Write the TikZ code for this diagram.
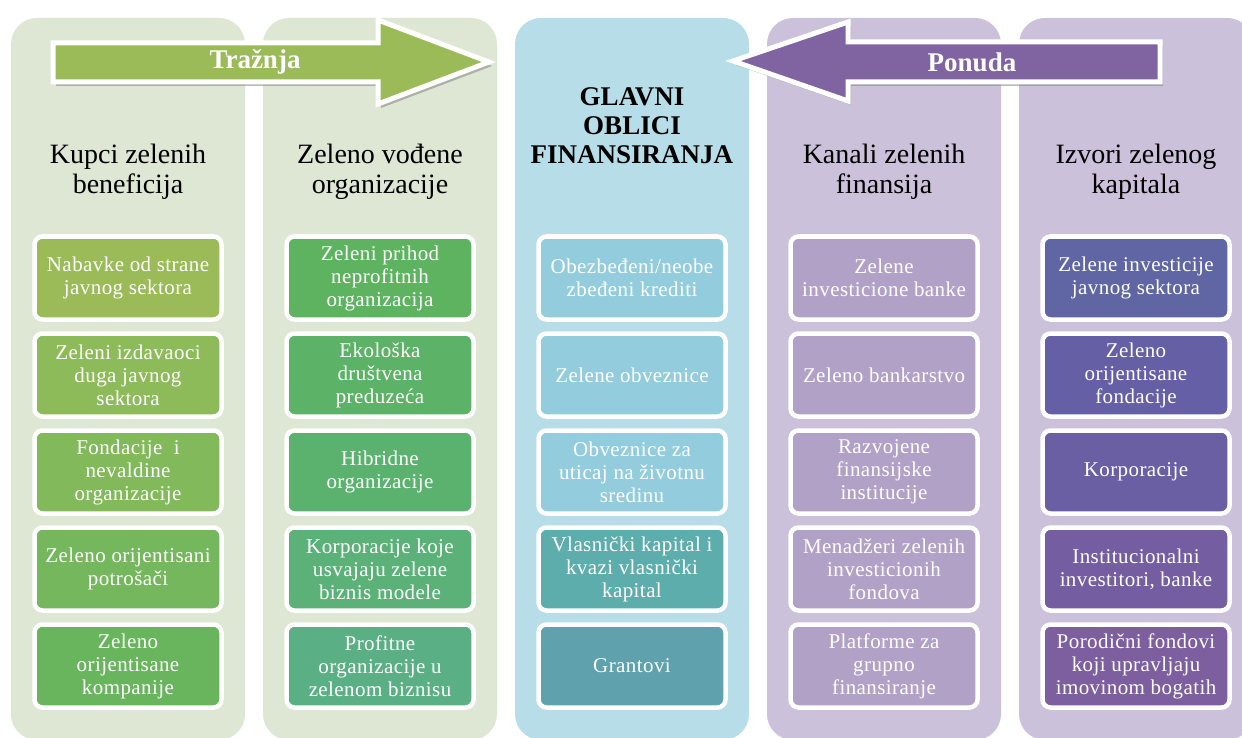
\documentclass[tikz,border=0pt]{standalone}
\usepackage{fontspec}
\setmainfont{Liberation Serif}
\newfontfamily\boxfont[LetterSpace=2]{Liberation Serif}
\definecolor{bgG}{HTML}{DDE7D4}
\definecolor{bgB}{HTML}{B7DDE8}
\definecolor{bgP}{HTML}{CCC1DA}
\definecolor{arG}{HTML}{9BBB59}
\definecolor{arP}{HTML}{8064A2}
\definecolor{cA}{HTML}{9BBB59}
\definecolor{cB}{HTML}{8EBB5A}
\definecolor{cC}{HTML}{82B95B}
\definecolor{cD}{HTML}{75B75C}
\definecolor{cE}{HTML}{69B55E}
\definecolor{dA}{HTML}{5DB360}
\definecolor{dB}{HTML}{5CB267}
\definecolor{dC}{HTML}{5BB26F}
\definecolor{dD}{HTML}{5BB178}
\definecolor{dE}{HTML}{5AB084}
\definecolor{eA}{HTML}{93CDDD}
\definecolor{eD}{HTML}{5EADAD}
\definecolor{eE}{HTML}{5FA1AC}
\definecolor{fA}{HTML}{B2A1C7}
\definecolor{gA}{HTML}{5F66A3}
\definecolor{gB}{HTML}{6560A5}
\definecolor{gC}{HTML}{6B5FA3}
\definecolor{gD}{HTML}{745EA1}
\definecolor{gE}{HTML}{7D5E9E}
\begin{document}
\begin{tikzpicture}[x=1pt,y=-1pt,
  colbg/.style={rounded corners=26pt},
  inbox/.style={draw=white, line width=4.5pt, rounded corners=8pt,
    minimum width=187pt, minimum height=83pt, inner sep=0pt,
    text=white, align=center, font=\boxfont\fontsize{21}{23}\selectfont},
  head/.style={align=center, text=black, font=\fontsize{28}{30}\selectfont},
  bighead/.style={align=center, text=black, font=\bfseries\fontsize{27}{29}\selectfont},
  arrowshape/.style={draw=white, line width=5pt, line join=miter},
  arrowshadow/.style={fill=black!45, opacity=0.6},
  arrowlabel/.style={text=white, font=\bfseries\fontsize{27}{29}\selectfont}
]
\useasboundingbox (0,0) rectangle (1242,738);
\fill[white] (0,0) rectangle (1242,738);
% column backgrounds
\fill[colbg, bgG] (11,18) rectangle (245,740);
\fill[colbg, bgG] (263,18) rectangle (497,740);
\fill[colbg, bgB] (515,18) rectangle (749,740);
\fill[colbg, bgP] (767,18) rectangle (1001,740);
\fill[colbg, bgP] (1019,18) rectangle (1253,740);

% column titles
\node[head] (h1) at (128,172) {Kupci zelenih\\beneficija};
\node[head] (h2) at (380,172) {Zeleno vođene\\organizacije};
\node[bighead] (h3) at (632,126) {GLAVNI\\OBLICI\\FINANSIRANJA};
\node[head] (h4) at (884,172) {Kanali zelenih\\finansija};
\node[head] (h5) at (1136,172) {Izvori zelenog\\kapitala};

% arrows
\fill[arrowshadow] (56,47) -- (381,47) -- (381,24) -- (492,66) -- (381,108) -- (381,86) -- (56,86) -- cycle;
\filldraw[arrowshape, fill=arG] (53,43) -- (378,43) -- (378,20) -- (489,62) -- (378,104) -- (378,82) -- (53,82) -- cycle;
\node[arrowlabel] (tr) at (255,62) {Tražnja};

\fill[arrowshadow] (1163,46) -- (851,46) -- (851,26) -- (736,65) -- (851,105) -- (851,86) -- (1163,86) -- cycle;
\filldraw[arrowshape, fill=arP] (1160,42) -- (848,42) -- (848,22) -- (733,61) -- (848,101) -- (848,82) -- (1160,82) -- cycle;
\node[arrowlabel] (po) at (972,62) {Ponuda};

% column 1
\node[inbox, fill=cA] (b11) at (128,278) {Nabavke od strane\\javnog sektora};
\node[inbox, fill=cB] (b12) at (128,375) {Zeleni izdavaoci\\duga javnog\\sektora};
\node[inbox, fill=cC] (b13) at (128,472) {Fondacije~~i\\nevaldine\\organizacije};
\node[inbox, fill=cD] (b14) at (128,569) {Zeleno orijentisani\\potrošači};
\node[inbox, fill=cE] (b15) at (128,666) {Zeleno\\orijentisane\\kompanije};

% column 2
\node[inbox, fill=dA] (b21) at (380,278) {Zeleni prihod\\neprofitnih\\organizacija};
\node[inbox, fill=dB] (b22) at (380,375) {Ekološka\\društvena\\preduzeća};
\node[inbox, fill=dC] (b23) at (380,472) {Hibridne\\organizacije};
\node[inbox, fill=dD] (b24) at (380,569) {Korporacije koje\\usvajaju zelene\\biznis modele};
\node[inbox, fill=dE] (b25) at (380,666) {Profitne\\organizacije u\\zelenom biznisu};

% column 3
\node[inbox, fill=eA] (b31) at (632,278) {Obezbeđeni/neobe\\zbeđeni krediti};
\node[inbox, fill=eA] (b32) at (632,375) {Zelene obveznice};
\node[inbox, fill=eA] (b33) at (632,472) {Obveznice za\\uticaj na životnu\\sredinu};
\node[inbox, fill=eD] (b34) at (632,569) {Vlasnički kapital i\\kvazi vlasnički\\kapital};
\node[inbox, fill=eE] (b35) at (632,666) {Grantovi};

% column 4
\node[inbox, fill=fA] (b41) at (884,278) {Zelene\\investicione banke};
\node[inbox, fill=fA] (b42) at (884,375) {Zeleno bankarstvo};
\node[inbox, fill=fA] (b43) at (884,472) {Razvojene\\finansijske\\institucije};
\node[inbox, fill=fA] (b44) at (884,569) {Menadžeri zelenih\\investicionih\\fondova};
\node[inbox, fill=fA] (b45) at (884,666) {Platforme za\\grupno\\finansiranje};

% column 5
\node[inbox, fill=gA] (b51) at (1136,278) {Zelene investicije\\javnog sektora};
\node[inbox, fill=gB] (b52) at (1136,375) {Zeleno\\orijentisane\\fondacije};
\node[inbox, fill=gC] (b53) at (1136,472) {Korporacije};
\node[inbox, fill=gD] (b54) at (1136,569) {Institucionalni\\investitori, banke};
\node[inbox, fill=gE] (b55) at (1136,666) {Porodični fondovi\\koji upravljaju\\imovinom bogatih};
\end{tikzpicture}
\end{document}
